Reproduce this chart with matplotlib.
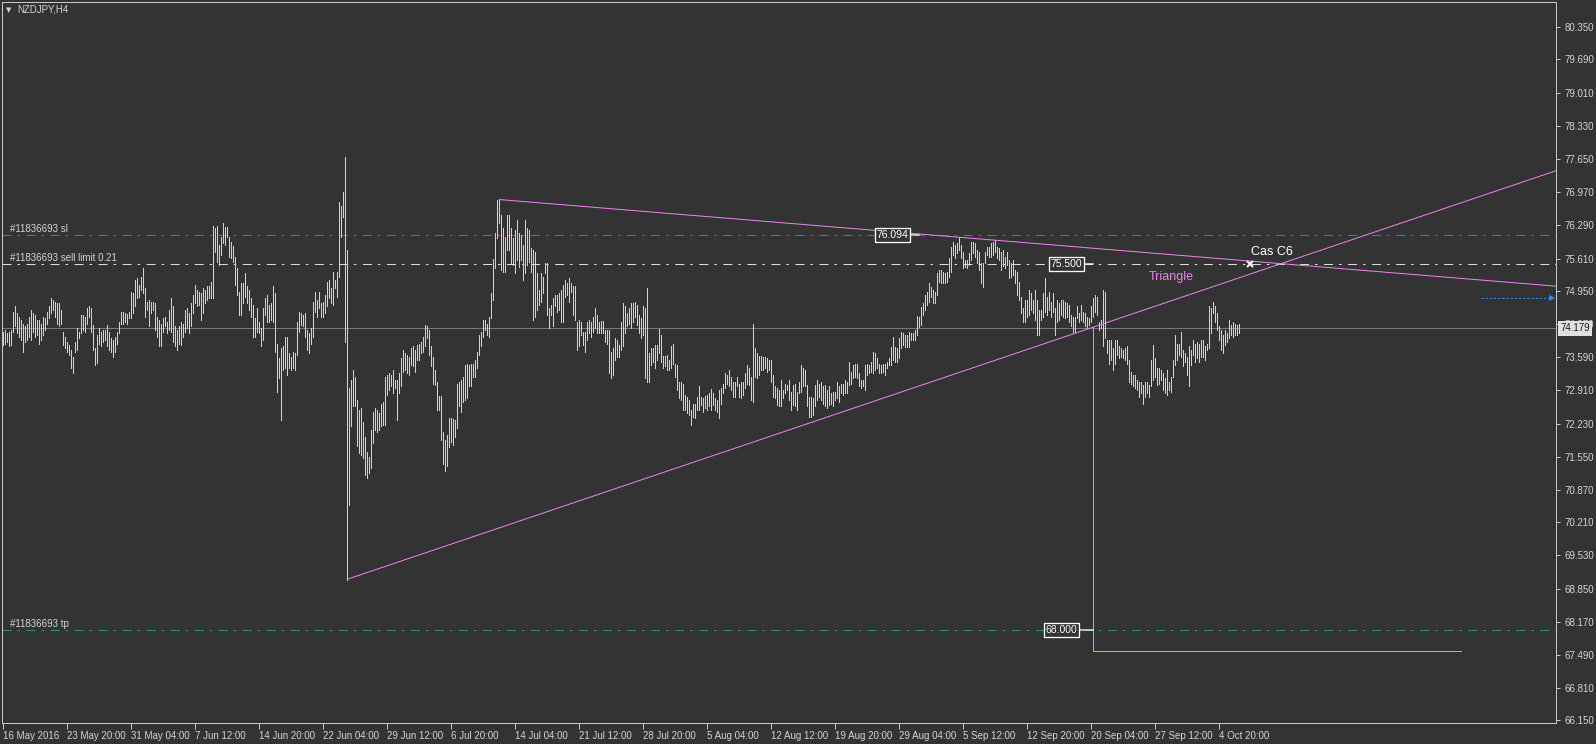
import matplotlib
matplotlib.use("Agg")
import matplotlib.pyplot as plt
from matplotlib.transforms import blended_transform_factory, offset_copy

plt.rcParams['font.family'] = ['Liberation Sans', 'DejaVu Sans']
plt.rcParams['lines.scale_dashes'] = False

# ---------------- data ----------------
symbol_title = "NZDJPY,H4"

bar_high = [
    74.11, 74.15, 74.08, 74.11, 74.15, 74.52, 74.63, 74.49, 74.42, 74.35,
    74.28, 74.22, 74.28, 74.42, 74.56, 74.49, 74.46, 74.35, 74.35, 74.28,
    74.42, 74.39, 74.52, 74.63, 74.80, 74.76, 74.73, 74.69, 74.69, 74.56,
    74.11, 74.01, 73.91, 73.84, 73.74, 73.60, 73.91, 74.18, 74.11, 74.46,
    74.46, 74.42, 74.59, 74.63, 74.59, 74.25, 73.77, 74.05, 74.18, 74.11,
    74.15, 74.15, 74.25, 74.11, 73.98, 73.94, 74.01, 74.11, 74.32, 74.52,
    74.51, 74.49, 74.47, 74.52, 74.93, 74.90, 75.17, 75.21, 75.07, 75.24,
    75.41, 75.00, 74.73, 74.76, 74.73, 74.73, 74.69, 74.42, 74.35, 74.28,
    74.39, 74.42, 74.32, 74.56, 74.80, 74.63, 74.22, 74.15, 74.22, 74.32,
    74.28, 74.56, 74.59, 74.49, 74.69, 74.86, 75.07, 74.97, 74.93,
    74.90, 75.00, 74.97, 75.04, 75.04, 75.14, 76.28, 76.23, 76.28, 75.89,
    76.06, 76.33, 76.25, 76.25, 76.06, 75.96, 75.86, 75.65, 75.41, 74.93,
    75.10, 75.10, 75.31, 75.04, 74.97, 74.80, 74.66, 74.39, 74.59, 74.32,
    74.18, 74.59, 74.80, 74.86, 74.66, 74.69, 75.04, 74.90, 73.87, 73.57,
    73.77, 73.81, 74.01, 74.01, 73.67, 73.60, 73.70, 73.67, 74.32, 74.52,
    74.49, 74.46, 74.49, 74.15, 74.08, 74.18, 74.73, 74.93, 74.76, 74.93,
    74.69, 74.73, 74.86, 75.14, 75.17, 75.00, 75.34, 75.17, 75.34, 76.78,
    76.68, 76.98, 77.70, 75.79, 72.95, 73.12, 73.33, 73.19, 72.71, 72.51,
    72.54, 72.27, 71.96, 71.65, 71.55, 72.10, 72.47, 72.54, 72.51, 72.44,
    72.64, 72.68, 73.19, 73.23, 73.26, 73.23, 73.33, 73.12, 73.12, 73.26,
    73.57, 73.74, 73.67, 73.64, 73.60,
    73.77, 73.81, 73.74, 73.84, 73.87, 73.91, 74.01, 74.25, 74.22, 74.15,
    73.81, 73.60, 73.33, 73.09, 72.80, 72.80, 72.05, 71.90, 72.00, 72.34,
    72.34, 72.32, 72.30, 73.05, 73.09, 73.12, 73.19, 73.43, 73.46, 73.43,
    73.46, 73.46, 73.53, 73.70, 74.04, 74.11, 74.35, 74.35, 74.28, 74.42,
    74.90, 75.61, 76.13, 76.81, 76.82, 76.50, 76.23, 76.06, 76.50, 76.50,
    76.23, 76.03, 76.20, 76.40, 76.13, 76.09, 75.89, 76.40, 76.23, 76.20,
    75.82, 75.79, 75.75, 75.31, 74.97, 75.31, 75.24, 75.51, 75.51, 74.59,
    74.66, 74.80, 74.86, 74.86, 74.90, 74.97, 75.07, 75.17, 75.10, 75.21,
    75.10, 75.04, 75.04, 74.32, 74.35, 74.32, 74.11, 74.11, 74.32, 74.35,
    74.32, 74.42, 74.59, 74.45, 74.32,
    74.33, 74.33, 74.15, 74.15, 74.15, 73.70, 73.77, 73.98, 73.94, 73.84,
    74.32, 74.69, 74.63, 74.49, 74.59, 74.69, 74.69, 74.73, 74.66, 74.46,
    74.39, 74.63, 74.59, 75.00, 73.67, 73.77, 73.77, 73.84, 73.84, 74.16,
    74.05, 73.61, 73.61, 73.64, 73.53, 73.81, 73.86, 73.46, 73.43, 73.09,
    73.09, 73.05, 72.82, 72.78, 72.71, 72.51, 72.64, 72.64, 72.78, 73.00,
    72.78, 72.75, 72.80, 72.82, 72.85, 72.93, 72.85, 72.75, 72.71, 72.92,
    72.95, 73.05, 73.26, 73.23, 73.33, 73.19, 73.09, 73.09, 73.19, 73.05,
    73.09, 73.09, 73.26, 73.43, 73.36, 73.19, 74.27, 73.77, 73.67, 73.61,
    73.61, 73.60, 73.60, 73.57, 73.53, 73.53, 73.23, 72.99, 72.95, 72.92,
    73.12, 72.92, 73.05, 73.02, 73.12, 72.88, 73.02, 73.05, 72.88, 73.09,
    73.43, 73.36, 73.33, 73.02, 72.78, 72.78, 72.75, 73.02, 73.12, 73.05,
    73.09, 72.99, 73.02, 72.92, 72.99, 72.85, 72.88, 72.88, 73.09, 72.99,
    73.05, 73.05, 73.12, 73.09, 73.50, 73.29, 73.43, 73.46, 73.46, 73.26,
    73.12, 73.12, 73.43, 73.46, 73.43, 73.50, 73.70, 73.67, 73.57, 73.46,
    73.43, 73.46, 73.46, 73.50, 73.57, 73.80, 74.01, 73.80, 73.77, 73.98,
    74.11, 74.08, 74.04, 74.04, 74.11, 74.09, 74.08, 74.15, 74.43, 74.42,
    74.62, 74.69, 74.86, 74.93, 75.10, 75.03, 74.97, 74.93, 75.31, 75.38,
    75.38, 75.34, 75.31, 75.34, 75.62, 75.85, 75.96, 75.89, 75.92, 76.06,
    75.89, 75.75, 75.58, 75.58, 75.72, 75.96, 75.96, 75.92, 75.79, 75.75,
    75.51, 75.51, 75.75, 75.85, 75.85, 75.92, 75.96, 75.99, 75.85, 75.82,
    75.75, 75.79, 75.65, 75.75, 75.58, 75.51, 75.58, 75.38, 75.34, 75.14,
    74.83, 74.59, 74.76, 74.76, 74.97, 74.90, 74.76, 74.97, 74.76, 74.56,
    74.56, 74.90, 75.21, 74.83, 74.93, 74.73, 74.90, 74.59, 74.76, 74.69,
    74.76, 74.76, 74.73, 74.69, 74.66, 74.46, 74.42, 74.42, 74.63, 74.49,
    74.66, 74.52, 74.49, 74.42, 74.39, 74.63, 74.80, 74.86, 74.83, 74.32,
    74.35, 74.97, 74.93, 73.94, 73.94, 73.94, 73.77, 73.94, 73.94, 73.81,
    73.77, 73.74, 73.77, 73.81, 73.53, 73.29, 73.23, 73.23, 73.12, 73.09,
    73.09, 73.02, 73.09, 73.09, 73.02, 73.53, 73.84, 73.57, 73.36, 73.36,
    73.33, 73.26, 73.16, 73.33, 73.09, 73.19, 73.53, 74.05, 73.87, 73.87,
    74.11, 73.74, 73.67, 73.60, 73.81, 73.74, 73.94, 73.87, 73.91, 73.87,
    73.94, 73.94, 73.81, 73.87, 74.63, 74.59, 74.73, 74.63, 74.49, 74.22,
    74.15, 74.05, 74.15, 74.08, 74.35, 74.25, 74.32, 74.28, 74.25, 74.28,
]

bar_low = [
    73.84, 73.87, 73.91, 73.81, 73.84, 74.11, 74.22, 74.08, 74.01, 73.94,
    73.70, 73.91, 73.94, 74.01, 73.94, 74.11, 74.01, 74.05, 73.87, 73.94,
    74.05, 74.15, 74.28, 74.39, 74.49, 74.56, 74.42, 74.28, 74.22, 74.28,
    73.84, 73.77, 73.70, 73.64, 73.36, 73.26, 73.70, 73.74, 73.98, 74.08,
    74.15, 74.11, 74.28, 74.42, 74.11, 73.74, 73.43, 73.47, 73.87, 73.81,
    73.91, 73.94, 73.81, 73.74, 73.70, 73.60, 73.70, 73.87, 74.08, 74.28,
    74.28, 74.32, 74.28, 74.39, 74.39, 74.49, 74.63, 74.80, 74.83, 74.97,
    74.90, 74.42, 74.56, 74.22, 74.49, 74.56, 74.15, 74.01, 73.81, 73.81,
    74.11, 74.22, 74.08, 74.15, 74.11, 73.91, 73.81, 73.74, 73.87, 73.84,
    74.01, 74.11, 74.18, 74.08, 74.22, 74.49, 74.69, 74.63, 74.66,
    74.35, 74.49, 74.69, 74.76, 74.80, 74.80, 74.80, 75.75, 75.55, 75.48,
    75.68, 75.92, 75.89, 76.06, 75.65, 75.62, 75.55, 75.07, 74.86, 74.46,
    74.46, 74.69, 74.83, 74.69, 74.56, 74.42, 74.01, 74.01, 74.11, 74.08,
    73.81, 73.94, 74.46, 74.32, 74.32, 74.35, 74.32, 73.70, 72.88, 73.16,
    72.30, 73.33, 73.36, 73.23, 73.36, 73.33, 73.36, 73.33, 73.64, 74.11,
    74.25, 74.22, 74.01, 73.74, 73.67, 73.87, 74.01, 74.52, 74.42, 74.59,
    74.42, 74.42, 74.49, 74.63, 74.80, 74.69, 74.66, 75.00, 74.83, 75.24,
    76.06, 76.47, 73.91, 69.02, 70.56, 72.17, 72.58, 72.58, 71.76, 71.62,
    71.59, 71.52, 71.18, 71.11, 71.21, 71.31, 71.83, 72.10, 72.06, 72.10,
    72.17, 72.20, 72.20, 72.82, 72.92, 72.99, 72.85, 72.95, 72.30, 72.85,
    72.99, 73.29, 73.33, 73.26, 73.23,
    73.43, 73.40, 73.29, 73.53, 73.53, 73.67, 73.70, 73.81, 73.98, 73.63,
    73.40, 73.05, 73.02, 72.51, 72.51, 71.90, 71.40, 71.25, 71.35, 71.75,
    71.85, 71.80, 71.95, 72.13, 72.58, 72.47, 72.68, 72.71, 72.75, 72.99,
    72.99, 73.19, 73.19, 73.36, 73.63, 73.81, 74.01, 74.15, 74.04, 74.01,
    74.39, 74.76, 75.41, 76.03, 76.33, 75.38, 75.34, 75.34, 75.79, 75.79,
    75.51, 75.48, 75.31, 75.58, 75.44, 75.58, 75.17, 75.31, 75.48, 75.55,
    75.34, 74.35, 74.42, 74.56, 74.66, 74.73, 74.90, 75.31, 74.45, 74.18,
    74.45, 74.22, 74.63, 74.52, 74.56, 74.32, 74.32, 74.83, 74.86, 74.73,
    74.93, 74.45, 74.35, 73.74, 73.81, 74.04, 73.84, 73.70, 73.94, 74.08,
    74.01, 74.11, 74.18, 74.08, 74.08,
    74.08, 74.09, 73.91, 73.87, 73.26, 73.16, 73.23, 73.53, 73.60, 73.60,
    73.74, 73.81, 74.08, 74.22, 74.28, 74.18, 74.32, 74.42, 74.25, 74.08,
    73.98, 74.05, 73.16, 73.09, 73.09, 73.43, 73.50, 73.36, 73.53, 73.67,
    73.50, 73.36, 73.40, 73.33, 73.33, 73.36, 73.46, 73.19, 72.92, 72.75,
    72.71, 72.51, 72.51, 72.44, 72.41, 72.20, 72.37, 72.34, 72.51, 72.51,
    72.61, 72.47, 72.54, 72.51, 72.58, 72.51, 72.61, 72.51, 72.47, 72.34,
    72.64, 72.85, 72.95, 73.05, 72.99, 72.92, 72.78, 72.78, 72.99, 72.78,
    72.75, 72.82, 72.95, 73.05, 73.02, 72.71, 72.68, 73.19, 73.16, 73.23,
    73.33, 73.33, 73.36, 73.29, 73.33, 73.09, 72.78, 72.75, 72.61, 72.58,
    72.58, 72.75, 72.85, 72.92, 72.71, 72.51, 72.61, 72.58, 72.51, 72.85,
    72.88, 72.99, 72.99, 72.58, 72.37, 72.37, 72.40, 72.58, 72.71, 72.78,
    72.71, 72.64, 72.58, 72.54, 72.61, 72.64, 72.58, 72.71, 72.75, 72.68,
    72.85, 72.81, 72.85, 72.85, 73.02, 73.05, 73.16, 73.19, 73.16, 72.99,
    72.95, 72.99, 72.92, 73.23, 73.26, 73.29, 73.26, 73.33, 73.36, 73.26,
    73.26, 73.29, 73.23, 73.36, 73.43, 73.43, 73.53, 73.50, 73.50, 73.57,
    73.77, 73.84, 73.80, 73.80, 73.80, 73.94, 73.94, 73.94, 74.04, 74.21,
    74.25, 74.45, 74.56, 74.66, 74.73, 74.83, 74.69, 74.69, 74.86, 75.14,
    75.10, 75.10, 75.10, 75.14, 75.24, 75.34, 75.68, 75.62, 75.72, 75.79,
    75.62, 75.41, 75.44, 75.41, 75.48, 75.58, 75.72, 75.65, 75.51, 75.38,
    75.10, 75.03, 75.51, 75.68, 75.65, 75.65, 75.68, 75.75, 75.62, 75.58,
    75.38, 75.45, 75.41, 75.48, 75.21, 75.24, 75.27, 75.10, 74.86, 74.76,
    74.49, 74.32, 74.32, 74.42, 74.46, 74.56, 74.49, 74.35, 74.05, 74.05,
    74.35, 74.42, 74.52, 74.46, 74.56, 74.42, 74.52, 74.05, 74.32, 74.35,
    74.46, 74.42, 74.39, 74.42, 74.32, 74.22, 74.11, 74.11, 74.39, 74.32,
    74.35, 74.32, 74.22, 74.18, 74.25, 74.32, 74.42, 74.52, 74.46, 74.15,
    74.18, 73.81, 73.98, 73.67, 73.46, 73.53, 73.33, 73.46, 73.64, 73.57,
    73.60, 73.57, 73.53, 73.46, 73.09, 73.05, 72.99, 72.95, 72.92, 72.78,
    72.85, 72.64, 72.78, 72.85, 72.78, 72.99, 73.12, 73.19, 73.02, 73.05,
    73.12, 72.92, 72.85, 72.82, 72.92, 72.88, 73.19, 73.43, 73.53, 73.64,
    73.60, 73.40, 73.50, 73.23, 72.99, 73.43, 73.64, 73.50, 73.57, 73.50,
    73.60, 73.60, 73.53, 73.74, 73.77, 74.08, 74.49, 74.32, 74.15, 73.94,
    73.74, 73.67, 73.84, 73.91, 73.98, 74.05, 74.01, 74.05, 74.05, 74.08,
]

date_labels = ["16 May 2016", "23 May 20:00", "31 May 04:00", "7 Jun 12:00",
               "14 Jun 20:00", "22 Jun 04:00", "29 Jun 12:00", "6 Jul 20:00",
               "14 Jul 04:00", "21 Jul 12:00", "28 Jul 20:00", "5 Aug 04:00",
               "12 Aug 12:00", "19 Aug 20:00", "29 Aug 04:00", "5 Sep 12:00",
               "12 Sep 20:00", "20 Sep 04:00", "27 Sep 12:00", "4 Oct 20:00"]
bars_per_label = 32

price_ticks = [80.350, 79.690, 79.010, 78.330, 77.650, 76.970, 76.290, 75.610,
               74.950, 74.270, 73.590, 72.910, 72.230, 71.550, 70.870, 70.210,
               69.530, 68.850, 68.170, 67.490, 66.810, 66.150]

current_price = 74.179
sl_price = 76.094
sell_limit_price = 75.500
tp_price = 68.000
order_texts = ["#11836693 sl", "#11836693 sell limit 0.21", "#11836693 tp"]

# triangle objects (anchor bar, anchor price, price change per bar)
tri_low_bar, tri_low_price, tri_low_slope = 172, 69.04, 0.01385
tri_top_bar, tri_top_price, tri_top_slope = 248, 76.82, -0.00336
breakout_bar = 545
target_price = 67.57
target_end_bar = 729
label_76_bar = 458
cas_bar, cas_price = 623.4, 75.49
cas_text_price = 75.745
triangle_text_bar, triangle_text_price = 583.8, 75.23
arrow_price = 74.80
arrow_start_bar, arrow_end_bar = 739, 774.5

# ---------------- style ----------------
BG = '#333333'
FG = '#d4d4d4'
BAR = '#d3d3d3'
TEAL = '#2b8c8c'
VIOLET = '#ee82ee'
DASHDOT = [6.5, 4.3, 1.8, 4.7]
PX = 0.72  # one pixel in points at dpi 100

W, H = 1596, 744
fig = plt.figure(figsize=(W / 100, H / 100), dpi=100, facecolor=BG)
ax = fig.add_axes([2 / W, 21 / H, 1554 / W, 721 / H], facecolor=BG)
ax.set_xlim(-0.65, 776.35)
ax.set_ylim(66.094, 80.868)

n = min(len(bar_high), len(bar_low))
idx = list(range(n))
ax.vlines(idx, bar_low[:n], bar_high[:n], colors=BAR, linewidth=PX,
          antialiased=False, zorder=3)

# horizontal lines
ax.axhline(current_price, color='#7a7a7a', lw=PX, zorder=2)
ax.axhline(sl_price, color=TEAL, lw=PX, dashes=DASHDOT, zorder=2)
ax.axhline(sell_limit_price, color='#dcdcdc', lw=PX, dashes=DASHDOT, zorder=2)
ax.axhline(tp_price, color=TEAL, lw=PX, dashes=DASHDOT, zorder=2)

# order labels
bt = blended_transform_factory(ax.transAxes, ax.transData)
lab_prices = [sl_price, sell_limit_price, tp_price]
for txt, p in zip(order_texts, lab_prices):
    ax.text(8 / 1554, p, txt, transform=offset_copy(bt, fig=fig, y=6, units='dots'),
            color=FG, fontsize=7, ha='left', va='center', zorder=4)

# triangle lines
xr = ax.get_xlim()[1]
ax.plot([tri_low_bar, xr],
        [tri_low_price, tri_low_price + tri_low_slope * (xr - tri_low_bar)],
        color=VIOLET, lw=PX, zorder=4, clip_on=True)
ax.plot([tri_top_bar, xr],
        [tri_top_price, tri_top_price + tri_top_slope * (xr - tri_top_bar)],
        color=VIOLET, lw=PX, zorder=4, clip_on=True)
bp = tri_low_price + tri_low_slope * (breakout_bar - tri_low_bar)
ax.plot([breakout_bar, breakout_bar, target_end_bar],
        [bp, target_price, target_price], color=VIOLET, lw=PX, zorder=4)

# price labels
def price_label(bar, price, off_px):
    ax.annotate(f"{price:.3f}", xy=(bar, price), xytext=(-off_px, 0),
                textcoords='offset pixels', ha='right', va='center',
                color='white', fontsize=7.5, zorder=6,
                bbox=dict(boxstyle='square,pad=0.18', fc=BG, ec='white', lw=PX * 1.3),
                arrowprops=dict(arrowstyle='-', color='white', lw=PX * 1.3,
                                shrinkA=0, shrinkB=0))

price_label(label_76_bar, sl_price, 11)
price_label(breakout_bar, sell_limit_price, 11)
price_label(breakout_bar, tp_price, 16)

# Cas C6 marker and text
ax.plot([cas_bar], [cas_price], marker='x', color='white', ms=4.5, mew=1.4, zorder=7)
ax.text(cas_bar + 0.5, cas_text_price, "Cas C6", color='white', fontsize=9,
        ha='left', va='center', zorder=7)
ax.text(triangle_text_bar, triangle_text_price, "Triangle", color=VIOLET,
        fontsize=9, ha='center', va='center', zorder=7)

# blue arrow
ax.plot([arrow_start_bar, arrow_end_bar], [arrow_price, arrow_price],
        color='#1e90ff', lw=PX, dashes=[1.5, 1.5], zorder=5)
ax.plot([arrow_end_bar], [arrow_price], marker='>', color='#1e90ff', ms=4.5,
        mew=0, zorder=5, clip_on=False)

# axes styling
for s in ax.spines.values():
    s.set_color('#c8c8c8')
    s.set_linewidth(PX)

ax.yaxis.tick_right()
ax.set_yticks(price_ticks)
ax.set_yticklabels([f"{v:.3f}" for v in price_ticks])
ax.tick_params(axis='y', direction='out', length=3, width=PX, color='#c8c8c8',
               labelcolor=FG, labelsize=7, pad=3)

ax.set_xticks([bars_per_label * k for k in range(len(date_labels))])
ax.set_xticklabels(date_labels)
ax.tick_params(axis='x', direction='out', length=4, width=PX, color='#c8c8c8',
               labelcolor=FG, labelsize=7, pad=2)
for lbl in ax.get_xticklabels():
    lbl.set_ha('left')

# current price box on axis
ax.text(1.0, current_price, f"{current_price:.3f}",
        transform=offset_copy(bt, fig=fig, x=4, units='dots'),
        ha='left', va='center', fontsize=7, color='#1a1a1a', zorder=10,
        clip_on=False,
        bbox=dict(boxstyle='square,pad=0.25', fc='#e0e0e0', ec='none'))

# title
fig.text(17 / W, 1 - 10 / H, symbol_title, color=FG, fontsize=7, ha='left', va='center')
fig.text(6 / W, 1 - 10 / H, "\u25BC", color=FG, fontsize=5, ha='left', va='center',
         family='DejaVu Sans')

fig.savefig("out.png", dpi=100, facecolor=BG)
